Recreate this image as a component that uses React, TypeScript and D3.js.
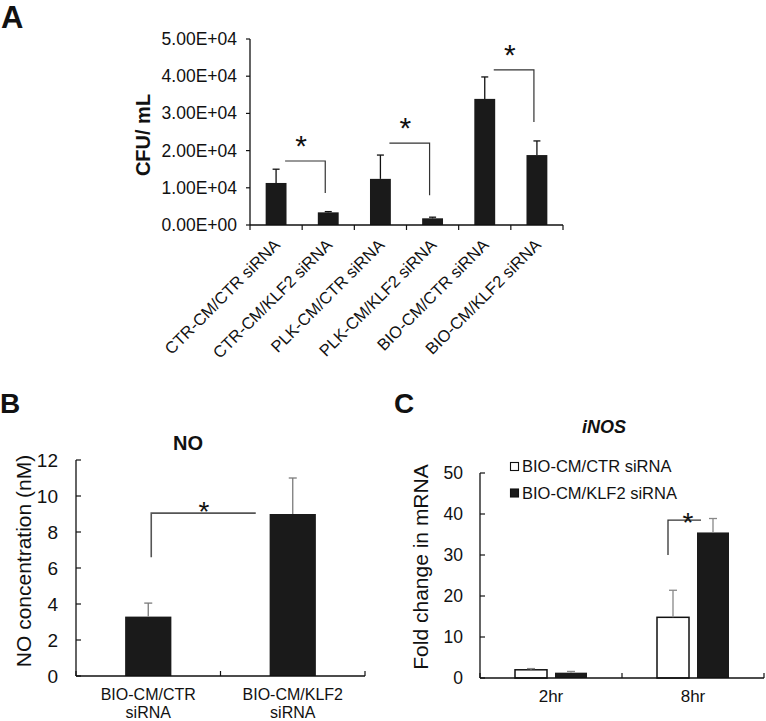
import React from "react";
import * as d3 from "d3";

// ---------- Panel A data ----------
const catsA = [
  "CTR-CM/CTR siRNA",
  "CTR-CM/KLF2 siRNA",
  "PLK-CM/CTR siRNA",
  "PLK-CM/KLF2 siRNA",
  "BIO-CM/CTR siRNA",
  "BIO-CM/KLF2 siRNA",
];
const valsA = [11300, 3400, 12400, 1800, 33900, 18800];
const errsA = [3700, 200, 6400, 300, 5900, 3800];
const ticksA = [0, 10000, 20000, 30000, 40000, 50000];
const tickLabelsA = ["0.00E+00", "1.00E+04", "2.00E+04", "3.00E+04", "4.00E+04", "5.00E+04"];
// significance brackets: [from, to, level, drop-to]
const bracketsA = [
  [0, 1, 17200, 8600],
  [2, 3, 22000, 8000],
  [4, 5, 41700, 27700],
];

// ---------- Panel B data ----------
const catsB = [["BIO-CM/CTR", "siRNA"], ["BIO-CM/KLF2", "siRNA"]];
const valsB = [3.3, 9.0];
const errsB = [0.75, 2.0];
const ticksB = [0, 2, 4, 6, 8, 10, 12];
const bracketB = { level: 9.05, drop: 6.6 };

// ---------- Panel C data ----------
const groupsC = ["2hr", "8hr"];
const seriesC = ["BIO-CM/CTR siRNA", "BIO-CM/KLF2 siRNA"];
const valsCtr = [2.0, 14.8];
const errsCtr = [0.3, 6.6];
const valsKlf = [1.3, 35.5];
const errsKlf = [0.3, 3.4];
const ticksC = [0, 10, 20, 30, 40, 50];
const bracketC = { level: 38.5, drop: 30 };

const FONT = "'Liberation Sans', Arial, Helvetica, sans-serif";
const BAR = "#1a1a1a";

export default function App() {
  // ---- A scales ----
  const yA = d3.scaleLinear().domain([0, 50000]).range([225, 39]);
  const xA = d3.scaleBand<string>().domain(catsA).range([250, 563]).paddingInner(0.6).paddingOuter(0.3);
  const stepA = xA.step();
  const cA = (i: number) => (xA(catsA[i]) as number) + xA.bandwidth() / 2;

  // ---- B scales ----
  const yB = d3.scaleLinear().domain([0, 12]).range([676, 460]);
  const namesB = catsB.map((c) => c.join(" "));
  const xB = d3.scaleBand<string>().domain(namesB).range([76, 365]).paddingInner(0.68).paddingOuter(0.34);
  const cB = (i: number) => (xB(namesB[i]) as number) + xB.bandwidth() / 2;

  // ---- C scales ----
  const yC = d3.scaleLinear().domain([0, 50]).range([678, 473]);
  const xC = d3.scaleBand<string>().domain(groupsC).range([480, 764]);
  const xCi = d3.scaleBand<string>().domain(seriesC).range([0, xC.bandwidth()]).paddingInner(0.2).paddingOuter(0.875);

  const errBar = (x: number, y0: number, y1: number, color: string, key: string, cap = 4) => (
    <g key={key} stroke={color} strokeWidth={1.3}>
      <line x1={x} x2={x} y1={y0} y2={y1} />
      <line x1={x - cap} x2={x + cap} y1={y1} y2={y1} />
    </g>
  );

  return (
    <svg width={766} height={721} style={{ display: "block", position: "absolute", left: 0, top: 0 }} fontFamily={FONT}>
      <rect width={766} height={721} fill="#fff" />

      {/* ================= Panel A ================= */}
      <text x={1} y={28} fontSize={31} fontWeight="bold" fill="#111">A</text>
      <text transform="translate(150,135) rotate(-90)" textAnchor="middle" fontSize={20} fontWeight="bold" fill="#111">CFU/ mL</text>
      {/* y axis */}
      <line x1={250} x2={250} y1={yA(50000)} y2={yA(0)} stroke="#111" strokeWidth={1.3} />
      {ticksA.map((t, i) => (
        <g key={"ta" + i}>
          <line x1={246} x2={250} y1={yA(t)} y2={yA(t)} stroke="#111" strokeWidth={1.2} />
          <text x={237} y={yA(t) + 6} textAnchor="end" fontSize={17.5} fill="#111">{tickLabelsA[i]}</text>
        </g>
      ))}
      {/* bars */}
      {catsA.map((c, i) => (
        <rect key={"ba" + i} x={xA(c)} y={yA(valsA[i])} width={xA.bandwidth()} height={yA(0) - yA(valsA[i])} fill={BAR} />
      ))}
      {catsA.map((c, i) => errBar(cA(i), yA(valsA[i]), yA(valsA[i] + errsA[i]), "#111", "ea" + i, 3.5))}
      {/* x axis */}
      <line x1={250} x2={563} y1={225} y2={225} stroke="#111" strokeWidth={1.3} />
      {d3.range(catsA.length + 1).map((i) => (
        <line key={"xta" + i} x1={250 + i * stepA} x2={250 + i * stepA} y1={225} y2={230} stroke="#111" strokeWidth={1.2} />
      ))}
      {catsA.map((c, i) => (
        <text key={"la" + i} transform={`translate(${cA(i) + 5},246) rotate(-45)`} textAnchor="end" fontSize={16.5} fill="#111">{c}</text>
      ))}
      {/* brackets */}
      {bracketsA.map(([a, b, lvl, drop], i) => {
        const x1 = cA(a) + 9;
        const x2 = cA(b) - 3;
        return (
          <g key={"bra" + i}>
            <polyline points={`${x1},${yA(lvl)} ${x2},${yA(lvl)} ${x2},${yA(drop)}`} fill="none" stroke="#333" strokeWidth={1.2} />
            <text x={x1 + 16} y={yA(lvl) - 5} textAnchor="middle" fontSize={30} fill="#111">*</text>
          </g>
        );
      })}

      {/* ================= Panel B ================= */}
      <text x={0} y={413} fontSize={28} fontWeight="bold" fill="#111">B</text>
      <text x={188} y={450} textAnchor="middle" fontSize={20} fontWeight="bold" fill="#111">NO</text>
      <text transform="translate(31,561) rotate(-90)" textAnchor="middle" fontSize={21} fill="#111">NO concentration (nM)</text>
      {catsB.map((c, i) => (
        <rect key={"bb" + i} x={xB(namesB[i])} y={yB(valsB[i])} width={xB.bandwidth()} height={yB(0) - yB(valsB[i])} fill={BAR} />
      ))}
      {catsB.map((c, i) => errBar(cB(i), yB(valsB[i]), yB(valsB[i] + errsB[i]), "#7a7a7a", "eb" + i, 4))}
      <line x1={76} x2={76} y1={yB(12)} y2={yB(0)} stroke="#111" strokeWidth={1.3} />
      {ticksB.map((t) => (
        <g key={"tb" + t}>
          <line x1={76} x2={81} y1={yB(t)} y2={yB(t)} stroke="#111" strokeWidth={1.2} />
          <text x={58} y={yB(t) + 7} textAnchor="end" fontSize={19} fill="#111">{t}</text>
        </g>
      ))}
      <line x1={76} x2={365} y1={676} y2={676} stroke="#111" strokeWidth={1.3} />
      {d3.range(catsB.length + 1).map((i) => {
        const x = 76 + i * xB.step();
        return <line key={"xtb" + i} x1={x} x2={x} y1={676} y2={671} stroke="#111" strokeWidth={1.2} />;
      })}
      {catsB.map((c, i) => (
        <text key={"lb" + i} x={cB(i)} textAnchor="middle" fontSize={16} fill="#111">
          <tspan x={cB(i)} y={700}>{c[0]}</tspan>
          <tspan x={cB(i)} y={718}>{c[1]}</tspan>
        </text>
      ))}
      <polyline
        points={`${cB(0) + 3},${yB(bracketB.drop)} ${cB(0) + 3},${yB(bracketB.level)} ${cB(1) - 37},${yB(bracketB.level)}`}
        fill="none" stroke="#555" strokeWidth={1.6}
      />
      <text x={204} y={yB(bracketB.level) + 8} textAnchor="middle" fontSize={28} fill="#111">*</text>

      {/* ================= Panel C ================= */}
      <text x={394} y={413} fontSize={28} fontWeight="bold" fill="#111">C</text>
      <text x={604} y={433} textAnchor="middle" fontSize={18} fontWeight="bold" fontStyle="italic" fill="#111">iNOS</text>
      <text transform="translate(428,567) rotate(-90)" textAnchor="middle" fontSize={21} fill="#111">Fold change in mRNA</text>
      {/* legend */}
      {seriesC.map((s, i) => (
        <g key={"lg" + i}>
          <rect x={510.5} y={462.5 + i * 26.5} width={8} height={8} fill={i === 0 ? "#fff" : BAR} stroke="#111" strokeWidth={1.1} />
          <text x={522} y={472 + i * 26.5} fontSize={16.5} fill="#111">{s}</text>
        </g>
      ))}
      {groupsC.map((g, gi) => {
        const gx = xC(g) as number;
        const xw = gx + (xCi(seriesC[0]) as number);
        const xk = gx + (xCi(seriesC[1]) as number);
        const bw = xCi.bandwidth();
        return (
          <g key={"gc" + gi}>
            <rect x={xw} y={yC(valsCtr[gi])} width={bw} height={yC(0) - yC(valsCtr[gi])} fill="#fff" stroke="#111" strokeWidth={1.5} />
            <rect x={xk} y={yC(valsKlf[gi])} width={bw} height={yC(0) - yC(valsKlf[gi])} fill={BAR} />
            {errBar(xw + bw / 2, yC(valsCtr[gi]), yC(valsCtr[gi] + errsCtr[gi]), "#888", "ecw" + gi, 4)}
            {errBar(xk + bw / 2, yC(valsKlf[gi]), yC(valsKlf[gi] + errsKlf[gi]), "#888", "eck" + gi, 4)}
            <text x={gx + xC.bandwidth() / 2} y={702} textAnchor="middle" fontSize={17} fill="#111">{g}</text>
          </g>
        );
      })}
      <line x1={480} x2={480} y1={yC(50)} y2={yC(0)} stroke="#111" strokeWidth={1.3} />
      {ticksC.map((t) => (
        <g key={"tc" + t}>
          <line x1={480} x2={485} y1={yC(t)} y2={yC(t)} stroke="#111" strokeWidth={1.2} />
          <text x={463} y={yC(t) + 6} textAnchor="end" fontSize={17.5} fill="#111">{t}</text>
        </g>
      ))}
      <line x1={480} x2={764} y1={678} y2={678} stroke="#111" strokeWidth={1.3} />
      {d3.range(groupsC.length + 1).map((i) => {
        const x = 480 + i * xC.step();
        return <line key={"xtc" + i} x1={x} x2={x} y1={678} y2={673} stroke="#111" strokeWidth={1.2} />;
      })}
      {(() => {
        const gx = xC(groupsC[1]) as number;
        const xl = gx + (xCi(seriesC[0]) as number) + xCi.bandwidth() / 2 - 5;
        const xr = gx + (xCi(seriesC[1]) as number) + 4;
        return (
          <g>
            <polyline points={`${xl},${yC(bracketC.drop)} ${xl},${yC(bracketC.level)} ${xr},${yC(bracketC.level)}`} fill="none" stroke="#333" strokeWidth={1.3} />
            <text x={688} y={yC(bracketC.level) + 12} textAnchor="middle" fontSize={28} fill="#111">*</text>
          </g>
        );
      })()}
    </svg>
  );
}
